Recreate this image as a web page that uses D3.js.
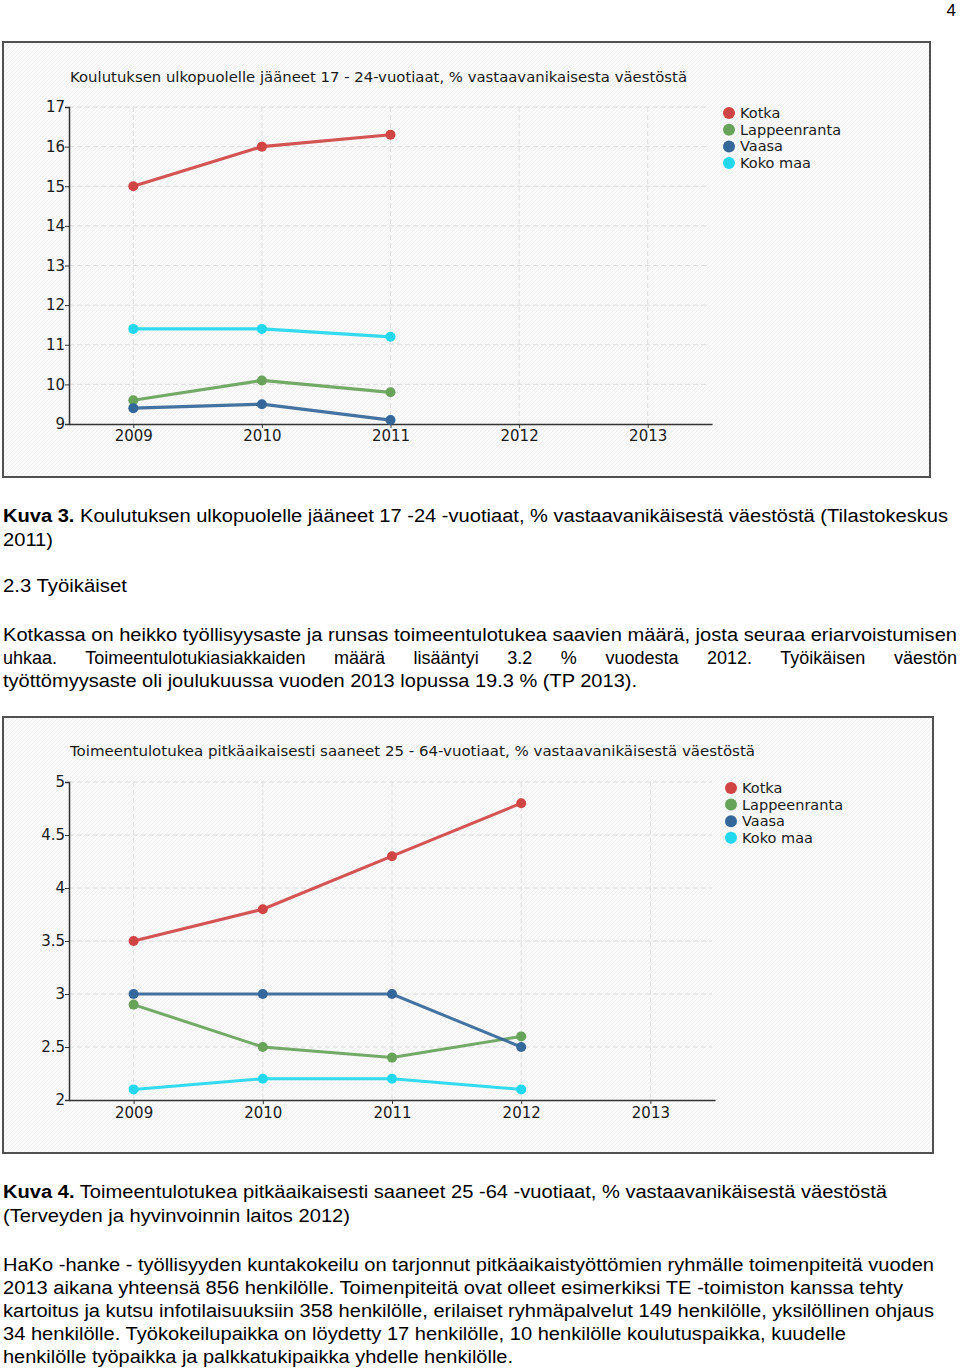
<!DOCTYPE html>
<html><head><meta charset="utf-8">
<script src="https://cdn.jsdelivr.net/npm/d3@7"></script>
<style>body{margin:0;background:#fff}svg{display:block}</style>
</head><body>
<svg id="page" width="960" height="1370"></svg>
<script>
// ---------- data ----------
const seriesNames = ["Kotka", "Lappeenranta", "Vaasa", "Koko maa"];
const seriesColors = ["#d04444", "#68a35a", "#34679a", "#22d8ee"];
const years = [2009, 2010, 2011, 2012, 2013];

const chart1Title = "Koulutuksen ulkopuolelle jääneet 17 - 24-vuotiaat, % vastaavanikaisesta väestöstä";
const chart1Years = [2009, 2010, 2011];
const chart1Kotka = [15.0, 16.0, 16.3];
const chart1Lappeenranta = [9.6, 10.1, 9.8];
const chart1Vaasa = [9.4, 9.5, 9.1];
const chart1KokoMaa = [11.4, 11.4, 11.2];
const chart1YTicks = [9, 10, 11, 12, 13, 14, 15, 16, 17];

const chart2Title = "Toimeentulotukea pitkäaikaisesti saaneet 25 - 64-vuotiaat, % vastaavanikäisestä väestöstä";
const chart2Years = [2009, 2010, 2011, 2012];
const chart2Kotka = [3.5, 3.8, 4.3, 4.8];
const chart2Lappeenranta = [2.9, 2.5, 2.4, 2.6];
const chart2Vaasa = [3.0, 3.0, 3.0, 2.5];
const chart2KokoMaa = [2.1, 2.2, 2.2, 2.1];
const chart2YTicks = [2, 2.5, 3, 3.5, 4, 4.5, 5];

const pageNumber = "4";
const caption3Bold = "Kuva 3.";
const caption3Lines = [" Koulutuksen ulkopuolelle jääneet 17 -24 -vuotiaat, % vastaavanikäisestä väestöstä (Tilastokeskus", "2011)"];
const headingText = "2.3 Työikäiset";
const para1Lines = [
  "Kotkassa on heikko työllisyysaste ja runsas toimeentulotukea saavien määrä, josta seuraa eriarvoistumisen",
  "uhkaa. Toimeentulotukiasiakkaiden määrä lisääntyi 3.2 % vuodesta 2012. Työikäisen väestön",
  "työttömyysaste oli joulukuussa vuoden 2013 lopussa 19.3 % (TP 2013)."
];
const caption4Bold = "Kuva 4.";
const caption4Lines = [" Toimeentulotukea pitkäaikaisesti saaneet 25 -64 -vuotiaat, % vastaavanikäisestä väestöstä", "(Terveyden ja hyvinvoinnin laitos 2012)"];
const para2Lines = [
  "HaKo -hanke - työllisyyden kuntakokeilu on tarjonnut pitkäaikaistyöttömien ryhmälle toimenpiteitä vuoden",
  "2013 aikana yhteensä 856 henkilölle. Toimenpiteitä ovat olleet esimerkiksi TE -toimiston kanssa tehty",
  "kartoitus ja kutsu infotilaisuuksiin 358 henkilölle, erilaiset ryhmäpalvelut 149 henkilölle, yksilöllinen ohjaus",
  "34 henkilölle. Työkokeilupaikka on löydetty 17 henkilölle, 10 henkilölle koulutuspaikka, kuudelle",
  "henkilölle työpaikka ja palkkatukipaikka yhdelle henkilölle."
];

// ---------- page ----------
const svg = d3.select("#page");
const defs = svg.append("defs");
const pat = defs.append("pattern").attr("id", "hatch").attr("patternUnits", "userSpaceOnUse")
  .attr("width", 4).attr("height", 4);
pat.append("rect").attr("width", 4).attr("height", 4).attr("fill", "#fafafa");
pat.append("path").attr("d", "M-1,1 l2,-2 M0,4 l4,-4 M3,5 l2,-2").attr("stroke", "#efefef").attr("stroke-width", 1);

const chartFont = "'DejaVu Sans', Verdana, sans-serif";
const bodyFont = "'Liberation Sans', Arial, sans-serif";

function drawChart(cfg) {
  const g = svg.append("g");
  g.append("rect").attr("x", cfg.box[0]).attr("y", cfg.box[1])
    .attr("width", cfg.box[2] - cfg.box[0]).attr("height", cfg.box[3] - cfg.box[1])
    .attr("fill", "url(#hatch)").attr("stroke", "#505050").attr("stroke-width", 2);

  const x = d3.scaleLinear().domain([2008.5, 2013.5]).range([cfg.left, cfg.right]);
  const y = d3.scaleLinear().domain(d3.extent(cfg.yTicks)).range([cfg.bottom, cfg.top]);

  // grid
  g.append("g").selectAll("line").data(cfg.yTicks.slice(1)).join("line")
    .attr("x1", cfg.left).attr("x2", cfg.right - 3)
    .attr("y1", d => y(d)).attr("y2", d => y(d))
    .attr("stroke", "#dcdcdc").attr("stroke-dasharray", "5,3");
  g.append("g").selectAll("line").data(years).join("line")
    .attr("x1", d => x(d)).attr("x2", d => x(d))
    .attr("y1", cfg.top).attr("y2", cfg.bottom)
    .attr("stroke", "#e0e0e0").attr("stroke-dasharray", "5,3");

  // axes
  const ya = g.append("g").attr("transform", `translate(${cfg.left},0)`)
    .call(d3.axisLeft(y).tickValues(cfg.yTicks).tickSize(4).tickSizeOuter(4).tickPadding(0).tickFormat(d3.format("")));
  const xa = g.append("g").attr("transform", `translate(0,${cfg.bottom})`)
    .call(d3.axisBottom(x).tickValues(years).tickSize(4).tickSizeOuter(0).tickPadding(cfg.xPad).tickFormat(d3.format("d")));
  [ya, xa].forEach(a => {
    a.select(".domain").attr("stroke", "#333").attr("stroke-width", 1.5);
    a.selectAll(".tick line").attr("stroke", "#333");
    a.selectAll("text").attr("font-family", chartFont).attr("font-size", 15).attr("fill", "#1a1a1a");
  });

  // title
  g.append("text").attr("x", cfg.titleX).attr("y", cfg.titleY)
    .attr("font-family", chartFont).attr("font-size", 14.5).attr("fill", "#1a1a1a")
    .attr("textLength", cfg.titleW).attr("lengthAdjust", "spacingAndGlyphs")
    .text(cfg.title);

  // series
  const line = d3.line().x(d => x(d[0])).y(d => y(d[1]));
  cfg.series.forEach((vals, i) => {
    const pts = cfg.xs.map((yr, j) => [yr, vals[j]]);
    g.append("path").datum(pts).attr("d", line).attr("fill", "none")
      .attr("stroke", seriesColors[i]).attr("stroke-width", cfg.lineW).attr("opacity", 0.92);
    g.append("g").selectAll("circle").data(pts).join("circle")
      .attr("cx", d => x(d[0])).attr("cy", d => y(d[1])).attr("r", 5)
      .attr("fill", seriesColors[i]);
  });

  // legend
  const lg = g.append("g");
  seriesNames.forEach((n, i) => {
    const cy = cfg.legY + i * cfg.legStep;
    lg.append("circle").attr("cx", cfg.legX).attr("cy", cy).attr("r", 6).attr("fill", seriesColors[i]);
    lg.append("text").attr("x", cfg.legX + 11).attr("y", cy + 5)
      .attr("font-family", chartFont).attr("font-size", 14.5).attr("fill", "#1a1a1a").text(n);
  });
}

drawChart({
  box: [3, 42, 930, 477], left: 69, right: 712, top: 107, bottom: 424,
  yTicks: chart1YTicks, xs: chart1Years, xPad: 2,
  series: [chart1Kotka, chart1Lappeenranta, chart1Vaasa, chart1KokoMaa],
  title: chart1Title, titleX: 70, titleY: 82, titleW: 617, lineW: 3.2,
  legX: 729, legY: 113, legStep: 16.7
});
drawChart({
  box: [3, 717, 933, 1153], left: 69, right: 715, top: 782, bottom: 1100,
  yTicks: chart2YTicks, xs: chart2Years, xPad: 3,
  series: [chart2Kotka, chart2Lappeenranta, chart2Vaasa, chart2KokoMaa],
  title: chart2Title, titleX: 70, titleY: 756, titleW: 685, lineW: 3,
  legX: 731, legY: 788, legStep: 16.6
});

// ---------- body text ----------
function textLine(y, parts, width, justify) {
  const t = svg.append("text").attr("x", 3).attr("y", y)
    .attr("font-family", bodyFont).attr("font-size", 18).attr("fill", "#000");
  parts.forEach(p => t.append("tspan").attr("font-weight", p.bold ? "bold" : null).text(p.text));
  if (justify) {
    const full = parts.map(p => p.text).join("");
    const gaps = (full.match(/ /g) || []).length;
    const w0 = t.node().getComputedTextLength();
    t.attr("word-spacing", (width - w0) / gaps);
  } else {
    t.attr("textLength", width).attr("lengthAdjust", "spacingAndGlyphs");
  }
}

svg.append("text").attr("x", 956).attr("y", 16).attr("text-anchor", "end")
  .attr("font-family", bodyFont).attr("font-size", 17).text(pageNumber);

textLine(522, [{text: caption3Bold, bold: true}, {text: caption3Lines[0]}], 945);
textLine(546, [{text: caption3Lines[1]}], 50);
textLine(592, [{text: headingText}], 124);
textLine(641, [{text: para1Lines[0]}], 954);
textLine(664, [{text: para1Lines[1]}], 954, true);
textLine(687, [{text: para1Lines[2]}], 634);
textLine(1198, [{text: caption4Bold, bold: true}, {text: caption4Lines[0]}], 884);
textLine(1222, [{text: caption4Lines[1]}], 347);
const p2W = [931, 900, 931, 843, 510];
para2Lines.forEach((l, i) => textLine(1271 + i * 23, [{text: l}], p2W[i]));
</script>
</body></html>
